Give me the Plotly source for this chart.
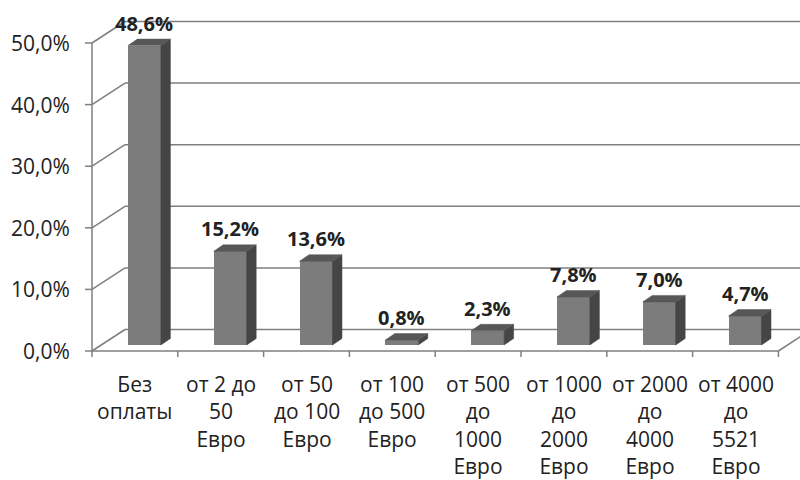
import plotly.graph_objects as go

# Distribution of fees (share of respondents)
categories = [
    "Без<br>оплаты",
    "от 2 до<br>50<br>Евро",
    "от 50<br>до 100<br>Евро",
    "от 100<br>до 500<br>Евро",
    "от 500<br>до<br>1000<br>Евро",
    "от 1000<br>до<br>2000<br>Евро",
    "от 2000<br>до<br>4000<br>Евро",
    "от 4000<br>до<br>5521<br>Евро",
]
shares = [48.6, 15.2, 13.6, 0.8, 2.3, 7.8, 7.0, 4.7]
y_ticks = [0, 10, 20, 30, 40, 50]
y_tick_labels = ["0,0%", "10,0%", "20,0%", "30,0%", "40,0%", "50,0%"]

# ---- pseudo-3D geometry (pixels per data unit and depth offsets) ----
W, H = 800, 480
X0_PX, Y0_PX = 92, 351          # front-left corner of the floor
CAT_PX = 85.8                   # pixels per category
PCT_PX = 6.16                   # pixels per 1 %

def px_x(p):  # horizontal pixel distance -> data units
    return p / CAT_PX

def px_y(p):  # vertical pixel distance -> data units
    return p / PCT_PX

WALL_DX, WALL_DY = px_x(33), px_y(21.5)
BAR_OFF_X, BAR_OFF_Y = px_x(9.5), px_y(6)
BAR_DX, BAR_DY = px_x(9.5), px_y(6.5)
BAR_W = px_x(33)

GRID = "#7f7f7f"
TEXT = "#222222"
FRONT = "#7c7c7c"
SIDE = "#454545"
TOP = "#575757"
FONT = "Open Sans"

x_range = [px_x(-X0_PX), px_x(W - X0_PX)]
y_range = [px_y(Y0_PX - H), px_y(Y0_PX)]
n = len(categories)

fig = go.Figure()

# ---- walls, floor and gridlines ----
shapes = []
def seg(x0, y0, x1, y1, width=1.5):
    shapes.append(dict(type="line", xref="x", yref="y", x0=x0, y0=y0, x1=x1, y1=y1,
                       line=dict(color=GRID, width=width), layer="below"))

for v in y_ticks:
    # back wall gridline
    seg(WALL_DX, v + WALL_DY, n + WALL_DX, v + WALL_DY)
    # side wall gridline
    seg(0, v, WALL_DX, v + WALL_DY)
    # tick mark on the value axis
    seg(px_x(-7), v, 0, v)
# value axis
seg(0, 0, 0, y_ticks[-1])
# front edge of the floor and category ticks
seg(0, 0, n, 0)
for i in range(n + 1):
    seg(i, 0, i, px_y(-6))
# right edge of the floor
seg(n, 0, n + WALL_DX, WALL_DY)

# ---- bars: front faces ----
centers = [i + 0.5 + BAR_OFF_X for i in range(n)]
fig.add_trace(go.Bar(
    x=centers, y=shares, base=BAR_OFF_Y, width=BAR_W,
    marker=dict(color=FRONT, line=dict(width=0)),
    hoverinfo="skip", showlegend=False,
))

# side and top faces
side_x, side_y, top_x, top_y = [], [], [], []
for c, v in zip(centers, shares):
    xl, xr = c - BAR_W / 2, c + BAR_W / 2
    b, t = BAR_OFF_Y, BAR_OFF_Y + v
    side_x += [xr, xr + BAR_DX, xr + BAR_DX, xr, xr, None]
    side_y += [b, b + BAR_DY, t + BAR_DY, t, b, None]
    top_x += [xl, xl + BAR_DX, xr + BAR_DX, xr, xl, None]
    top_y += [t, t + BAR_DY, t + BAR_DY, t, t, None]

fig.add_trace(go.Scatter(x=side_x, y=side_y, mode="lines", fill="toself",
                         fillcolor=SIDE, line=dict(color=SIDE, width=0.5),
                         hoverinfo="skip", showlegend=False))
fig.add_trace(go.Scatter(x=top_x, y=top_y, mode="lines", fill="toself",
                         fillcolor=TOP, line=dict(color=TOP, width=0.5),
                         hoverinfo="skip", showlegend=False))

# ---- text ----
annotations = []
for v, lab in zip(y_ticks, y_tick_labels):
    annotations.append(dict(x=px_x(-20), y=v, xref="x", yref="y", text=lab,
                            showarrow=False, xanchor="right", yanchor="middle",
                            font=dict(family=FONT, size=21, color=TEXT)))
for i, lab in enumerate(categories):
    annotations.append(dict(x=i + 0.5, y=px_y(-17), xref="x", yref="y", text=lab,
                            showarrow=False, xanchor="center", yanchor="top",
                            font=dict(family=FONT, size=21, color=TEXT)))
for c, v in zip(centers, shares):
    annotations.append(dict(x=c, y=v + BAR_OFF_Y + BAR_DY + px_y(16), xref="x", yref="y",
                            text=f"<b>{v:.1f}%</b>".replace(".", ","),
                            showarrow=False, xanchor="center", yanchor="middle",
                            font=dict(family=FONT, size=20, color=TEXT)))

fig.update_layout(
    width=W, height=H,
    margin=dict(l=0, r=0, t=0, b=0),
    paper_bgcolor="white", plot_bgcolor="white",
    xaxis=dict(range=x_range, visible=False, fixedrange=True),
    yaxis=dict(range=y_range, visible=False, fixedrange=True),
    shapes=shapes, annotations=annotations,
    bargap=0, showlegend=False,
)

fig.write_html("out.html")
